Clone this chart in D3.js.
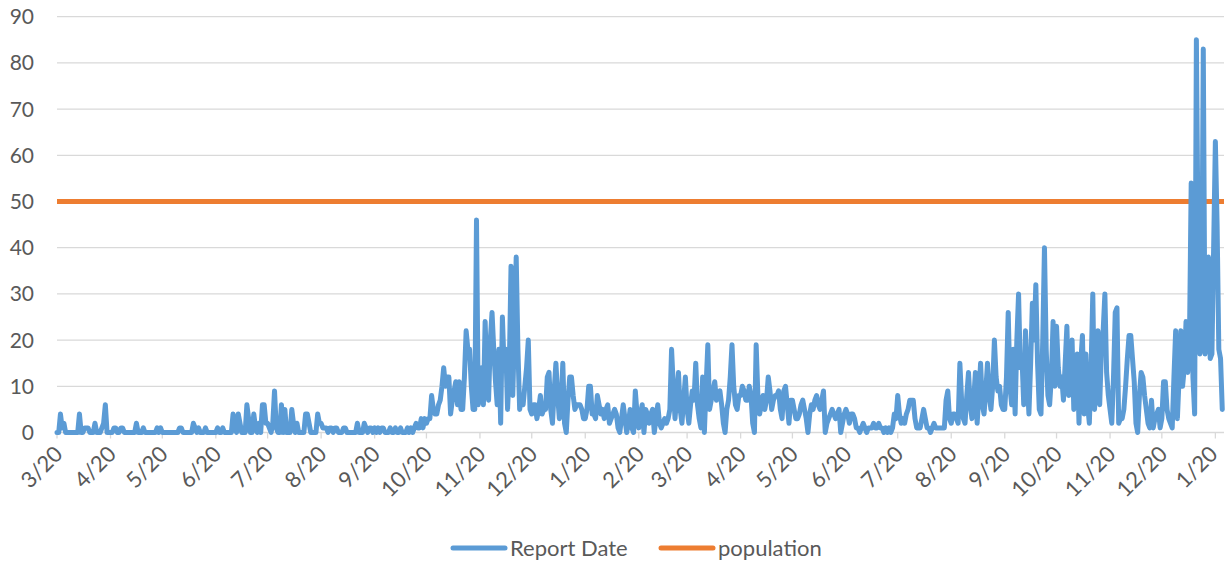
<!DOCTYPE html>
<html>
<head>
<meta charset="utf-8">
<script src="https://cdn.jsdelivr.net/npm/d3@7"></script>
<style>
  html, body { margin: 0; padding: 0; background: #fff; }
  svg { display: block; font-family: Lato, "Open Sans", sans-serif; }
</style>
</head>
<body>
<svg id="chart" width="1225" height="564"></svg>
<script>
// daily "Report Date" counts, one array per month
const mar20 = [0,0,4,1,2,0,0,0,0,0,0,0,0,4,0,0,1,1,1,0,0,0,2,0,0,0,1,2,6,0,0];
const apr20 = [0,0,1,1,0,0,1,1,0,0,0,0,0,0,0,2,0,0,0,1,0,0,0,0,0,0,0,1,0,1];
const may20 = [0,0,0,0,0,0,0,0,0,0,1,1,0,0,0,0,0,0,2,1,0,1,0,0,0,1,0,0,0,0,0];
const jun20 = [0,1,0,0,1,0,0,0,0,0,4,1,0,4,2,0,0,0,6,3,0,0,4,1,0,2,0,6,6,2];
const jul20 = [2,1,0,2,9,1,0,0,6,0,5,0,0,0,5,2,0,2,0,0,0,0,4,4,2,0,0,0,0,4,2];
const aug20 = [2,1,1,1,0,1,1,0,1,1,0,0,0,1,1,0,0,0,0,0,0,2,0,0,0,2,1,0,1,1,0];
const sep20 = [1,0,1,0,1,1,0,0,0,1,0,0,1,0,0,1,0,0,0,1,0,1,0,1,2,1,1,3,1,3];
const oct20 = [2,3,3,8,5,4,4,6,7,10,14,10,12,12,4,7,9,11,6,11,5,5,12,22,18,18,10,5,5,46,6];
const nov20 = [10,14,6,24,12,7,20,26,18,11,6,18,2,25,14,18,5,14,36,8,22,38,18,5,8,6,10,14,20,5];
const dec20 = [4,6,6,3,5,8,4,5,5,12,13,5,2,9,15,8,3,6,15,2,0,7,12,12,8,5,6,6,6,5,3];
const jan21 = [3,5,10,10,4,4,3,8,6,4,5,3,5,6,2,3,4,5,4,1,0,3,6,3,0,2,5,1,0,9,4];
const feb21 = [1,4,6,0,5,4,2,4,5,0,3,6,2,1,2,3,2,3,5,18,10,3,8,13,5,2,7,12];
const mar21 = [5,2,6,9,7,15,6,3,1,12,0,10,19,5,7,9,11,7,8,9,6,2,0,5,7,12,19,10,6,5,8];
const apr21 = [8,10,9,7,7,10,8,2,0,19,8,4,6,8,5,7,12,9,5,7,8,8,9,5,3,9,10,6,2,7];
const may21 = [7,5,3,3,4,6,7,5,3,0,4,6,5,7,8,6,5,7,9,0,2,3,4,5,4,3,4,5,0,2,4];
const jun21 = [5,4,2,4,4,3,1,1,0,1,2,1,0,1,1,1,2,1,1,2,1,1,0,1,0,1,0,1,4,3];
const jul21 = [8,4,2,3,2,4,5,7,7,7,3,1,1,1,3,5,3,1,1,0,1,2,1,1,1,1,1,1,7,9,3];
const aug21 = [2,4,4,3,2,15,7,3,2,8,13,6,3,7,13,2,8,15,6,4,9,15,8,5,10,20,12,9,10,6,5];
const sep21 = [5,12,26,10,6,18,4,20,30,14,16,6,22,12,4,15,28,20,32,15,5,4,20,40,18,8,6,12,24,10];
const oct21 = [23,14,10,12,7,15,23,8,14,20,5,10,17,2,15,21,4,17,6,2,14,30,5,12,22,6,18,22,30,13,8];
const nov21 = [5,2,12,26,27,2,3,3,5,10,16,21,21,16,11,2,0,8,13,12,8,5,2,1,7,1,3,4,5,1];
const dec21 = [3,11,11,5,3,2,1,12,22,3,12,22,10,14,24,13,20,54,12,4,85,40,17,20,83,17,20,38,16,17,40];
const jan22 = [63,45,18,16,5];

const populationValue = 50;
const yTicks = [0,10,20,30,40,50,60,70,80,90];
const tickLabels = ["3/20","4/20","5/20","6/20","7/20","8/20","9/20","10/20","11/20","12/20",
  "1/20","2/20","3/20","4/20","5/20","6/20","7/20","8/20","9/20","10/20","11/20","12/20","1/20"];
const seriesNames = ["Report Date", "population"];

const BLUE = "#5B9BD5", ORANGE = "#ED7D31", GRID = "#D9D9D9", TXT = "#595959";

const counts = [].concat(mar20, apr20, may20, jun20, jul20, aug20, sep20, oct20, nov20, dec20,
  jan21, feb21, mar21, apr21, may21, jun21, jul21, aug21, sep21, oct21, nov21, dec21, jan22);
const start = new Date(Date.UTC(2020, 2, 1));
const data = counts.map((v, i) => ({ date: d3.utcDay.offset(start, i), value: v }));

const svg = d3.select("#chart");
const plotL = 57, plotR = 1224, plotT = 16.7, plotB = 432.5;

const x = d3.scaleUtc()
  .domain([start, new Date(Date.UTC(2022, 0, 6))])
  .range([plotL, plotR]);
const y = d3.scaleLinear().domain([0, 90]).range([plotB, plotT]);

// gridlines
svg.append("g").selectAll("line").data(yTicks).join("line")
  .attr("x1", plotL).attr("x2", plotR)
  .attr("y1", (d) => y(d)).attr("y2", (d) => y(d))
  .attr("stroke", GRID).attr("stroke-width", 1.3);

// y labels
svg.append("g").selectAll("text").data(yTicks).join("text")
  .attr("x", 34).attr("y", (d) => y(d)).attr("dy", "0.36em")
  .attr("text-anchor", "end").attr("fill", TXT).style("font-size", "21px")
  .text((d) => d);

// x ticks (month boundaries)
const months = d3.utcMonth.range(start, new Date(Date.UTC(2022, 0, 2)));
svg.append("g").selectAll("line").data(months).join("line")
  .attr("x1", (d) => x(d)).attr("x2", (d) => x(d))
  .attr("y1", plotB).attr("y2", plotB + 6)
  .attr("stroke", GRID).attr("stroke-width", 1.3);

svg.append("g").selectAll("text").data(months).join("text")
  .attr("transform", (d) => `translate(${Math.min(x(d) + 7, 1219)},${plotB + 23}) rotate(-45)`)
  .attr("text-anchor", "end").attr("fill", TXT).style("font-size", "22px")
  .text((d, i) => tickLabels[i]);

// population line
svg.append("line")
  .attr("x1", plotL).attr("x2", plotR)
  .attr("y1", y(populationValue)).attr("y2", y(populationValue))
  .attr("stroke", ORANGE).attr("stroke-width", 5);

// report date series
const line = d3.line().x((d) => x(d.date)).y((d) => y(d.value));
svg.append("path").datum(data)
  .attr("d", line).attr("fill", "none")
  .attr("stroke", BLUE).attr("stroke-width", 5)
  .attr("stroke-linejoin", "round").attr("stroke-linecap", "round");

// legend
const legend = [
  { name: seriesNames[0], color: BLUE, x: 453 },
  { name: seriesNames[1], color: ORANGE, x: 661 }
];
const lg = svg.append("g").selectAll("g").data(legend).join("g")
  .attr("transform", (d) => `translate(${d.x},548)`);
lg.append("line").attr("x1", 0).attr("x2", 52).attr("y1", 0).attr("y2", 0)
  .attr("stroke", (d) => d.color).attr("stroke-width", 5).attr("stroke-linecap", "round");
lg.append("text").attr("x", 57).attr("y", 0).attr("dy", "0.36em")
  .attr("fill", TXT).style("font-size", "22px").text((d) => d.name);
</script>
</body>
</html>
